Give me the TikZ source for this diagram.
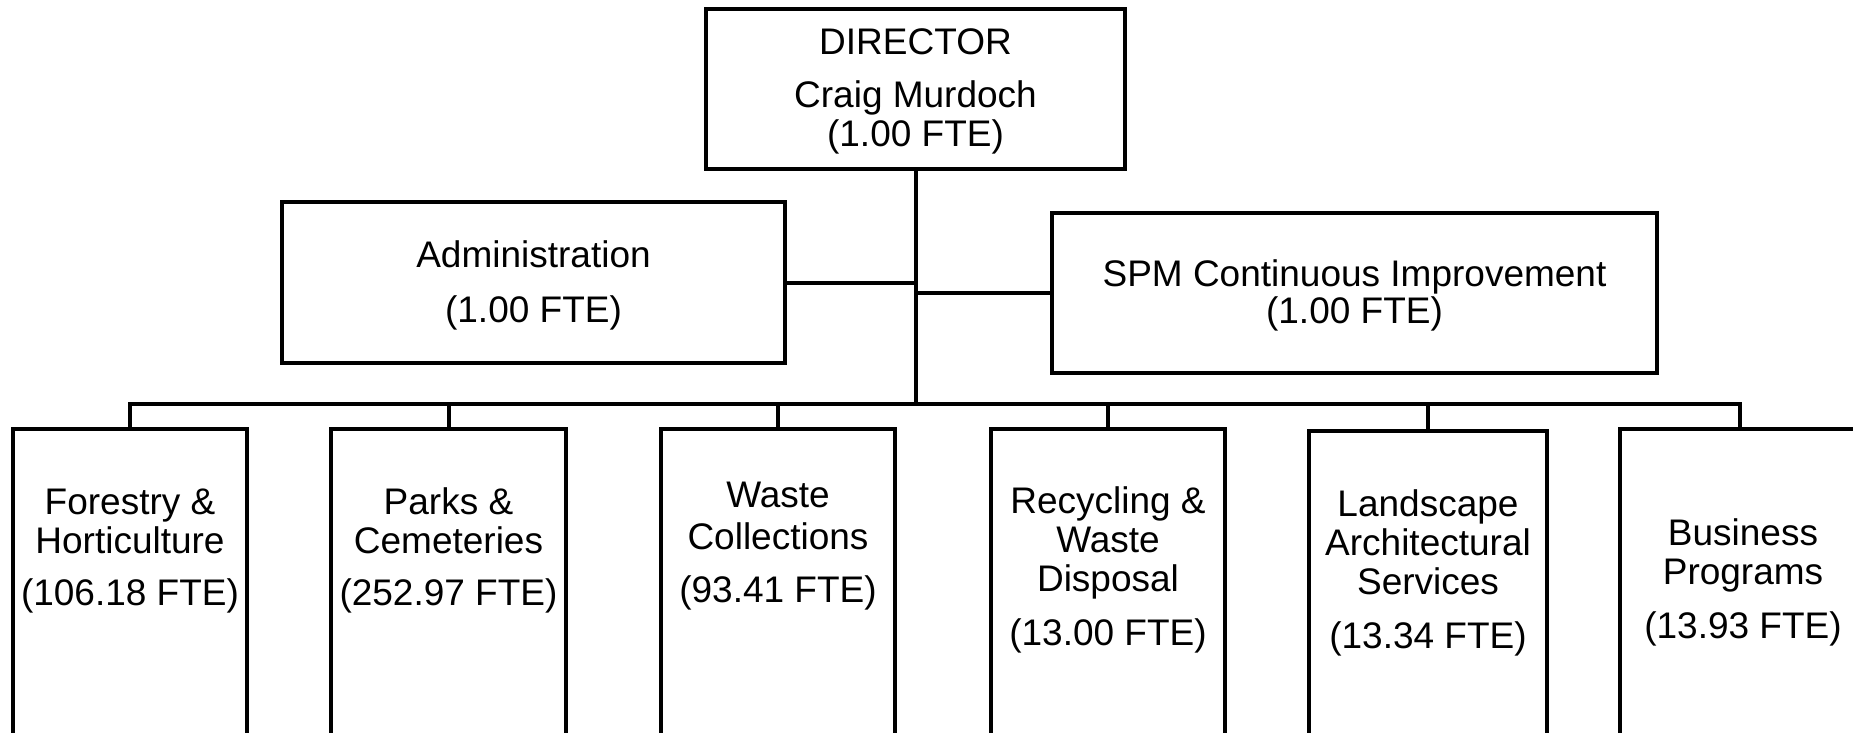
\documentclass[tikz,border=0pt]{standalone}
\usepackage{fontspec}
\setmainfont{Liberation Sans}
\newcommand{\fstrut}{\rule{0pt}{30pt}}
\begin{document}
\begin{tikzpicture}[x=1pt,y=-1pt,
  box/.style={draw=black, line width=4pt, fill=white, inner sep=0pt, rectangle},
  conn/.style={draw=black, line width=4pt, line cap=rect},
  txt/.style={inner sep=0pt, anchor=north, align=center, text=black,
              font=\fontsize{37}{39}\selectfont}]
  \useasboundingbox (0,0) rectangle (1853,732);
  \clip (0,0) rectangle (1853,732);

  % boxes
  \node[box, minimum width=419pt, minimum height=160pt] (dir) at (915.5,89) {};
  \node[box, minimum width=503pt, minimum height=161pt] (adm) at (533.5,282.5) {};
  \node[box, minimum width=605pt, minimum height=160pt] (spm) at (1354.5,293) {};

  \node[box, minimum width=234pt, minimum height=360pt, anchor=north] (b1) at (130,427) {};
  \node[box, minimum width=235pt, minimum height=360pt, anchor=north] (b2) at (448.5,427) {};
  \node[box, minimum width=234pt, minimum height=360pt, anchor=north] (b3) at (778,427) {};
  \node[box, minimum width=234pt, minimum height=360pt, anchor=north] (b4) at (1108,427) {};
  \node[box, minimum width=238pt, minimum height=360pt, anchor=north] (b5) at (1428,429) {};
  \node[box, minimum width=240pt, minimum height=360pt, anchor=north] (b6) at (1740,427) {};

  % connectors
  \coordinate (bus) at (915.5,404);
  \draw[conn] (dir.south) -- (dir.south |- bus);
  \draw[conn] (adm.east) -- (adm.east -| dir.south);
  \draw[conn] (spm.west) -- (spm.west -| dir.south);
  \draw[conn] (b1.north) -- (b1.north |- bus) -- (b6.north |- bus) -- (b6.north);
  \draw[conn] (b2.north) -- (b2.north |- bus);
  \draw[conn] (b3.north) -- (b3.north |- bus);
  \draw[conn] (b4.north) -- (b4.north |- bus);
  \draw[conn] (b5.north) -- (b5.north |- bus);

  % labels (each placed 30pt above its first baseline)
  \node[txt] (tdir) at (915.5,24) {\fstrut DIRECTOR\\[14pt]Craig Murdoch\\(1.00 FTE)};
  \node[txt] (tadm) at (533.5,237) {\fstrut Administration\\[16pt](1.00 FTE)};
  \node[txt] (tspm) at (1354.5,256) {\fstrut SPM Continuous Improvement\\[-2pt](1.00 FTE)};

  \node[txt] (t1) at (130,484) {\fstrut Forestry \&\\Horticulture\\[13pt](106.18 FTE)};
  \node[txt] (t2) at (448.5,484) {\fstrut Parks \&\\Cemeteries\\[13pt](252.97 FTE)};
  \node[txt] (t3) at (778,477) {\fstrut Waste\\[3pt]Collections\\[14pt](93.41 FTE)};
  \node[txt] (t4) at (1108,483) {\fstrut Recycling \&\\Waste\\Disposal\\[15pt](13.00 FTE)};
  \node[txt] (t5) at (1428,486) {\fstrut Landscape\\Architectural\\Services\\[15pt](13.34 FTE)};
  \node[txt] (t6) at (1743,515) {\fstrut Business\\Programs\\[15pt](13.93 FTE)};
\end{tikzpicture}
\end{document}
